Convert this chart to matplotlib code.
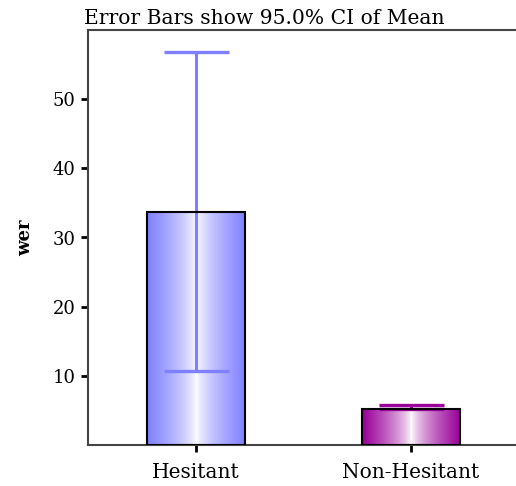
import numpy as np
import matplotlib
matplotlib.use("Agg")
import matplotlib.pyplot as plt
from matplotlib.colors import LinearSegmentedColormap
from matplotlib.patches import Rectangle

# valeurs
groupes = ["Hesitant", "Non-Hesitant"]
moyennes = [33.7, 5.2]
ic_bas = [10.7, 5.2]
ic_haut = [56.8, 5.75]
couleurs = ["#7f7fff", "#990099"]

plt.rcParams["font.family"] = "DejaVu Serif"

fig = plt.figure(figsize=(5.16, 4.86), dpi=100)
ax = fig.add_axes([88 / 516, 41 / 486, 1 - 88 / 516, 415 / 486])

x = np.arange(len(groupes))
largeur = 0.456

barres = ax.bar(x, moyennes, width=largeur, color="none", edgecolor="black", linewidth=1.5, zorder=3)

# remplissage en degrade pour chaque barre
for b, c in zip(barres, couleurs):
    prof = np.linspace(0, 1, 256)
    prof = 0.5 + 0.5 * np.sign(prof - 0.5) * np.abs(2 * prof - 1) ** 0.7
    grad = prof.reshape(1, -1)
    cmap = LinearSegmentedColormap.from_list("g", [c, "white", c])
    x0, y0 = b.get_x(), b.get_y()
    w, h = b.get_width(), b.get_height()
    im = ax.imshow(grad, cmap=cmap, aspect="auto", extent=[x0, x0 + w, y0, y0 + h], zorder=2)
    clip = Rectangle((x0, y0), w, h, transform=ax.transData)
    im.set_clip_path(clip)

# barres d'erreur
for i in range(len(groupes)):
    ax.errorbar(x[i], moyennes[i],
                yerr=[[moyennes[i] - ic_bas[i]], [ic_haut[i] - moyennes[i]]],
                fmt="none", ecolor=couleurs[i], elinewidth=2.2, capsize=23.4,
                capthick=2.4, zorder=2.5)

ax.set_xlim(-0.502, 1.488)
ax.set_ylim(0, 60)
ax.set_yticks([10, 20, 30, 40, 50])
ax.set_xticks(x)
ax.set_xticklabels(groupes, fontsize=14.5)

ax.spines["right"].set_visible(False)
for s in ["left", "top", "bottom"]:
    ax.spines[s].set_color("#444444")
    ax.spines[s].set_linewidth(1.5)

ax.tick_params(axis="both", direction="out", length=5, width=2, color="black")
ax.tick_params(axis="y", pad=4, labelsize=13)
ax.tick_params(axis="x", pad=8)

ax.set_ylabel("wer", fontweight="bold", fontsize=13, labelpad=13)
ax.set_title("Error Bars show 95.0% CI of Mean", fontsize=14.6, loc="left", x=-0.01, pad=4)

fig.savefig("out.png", dpi=100)
